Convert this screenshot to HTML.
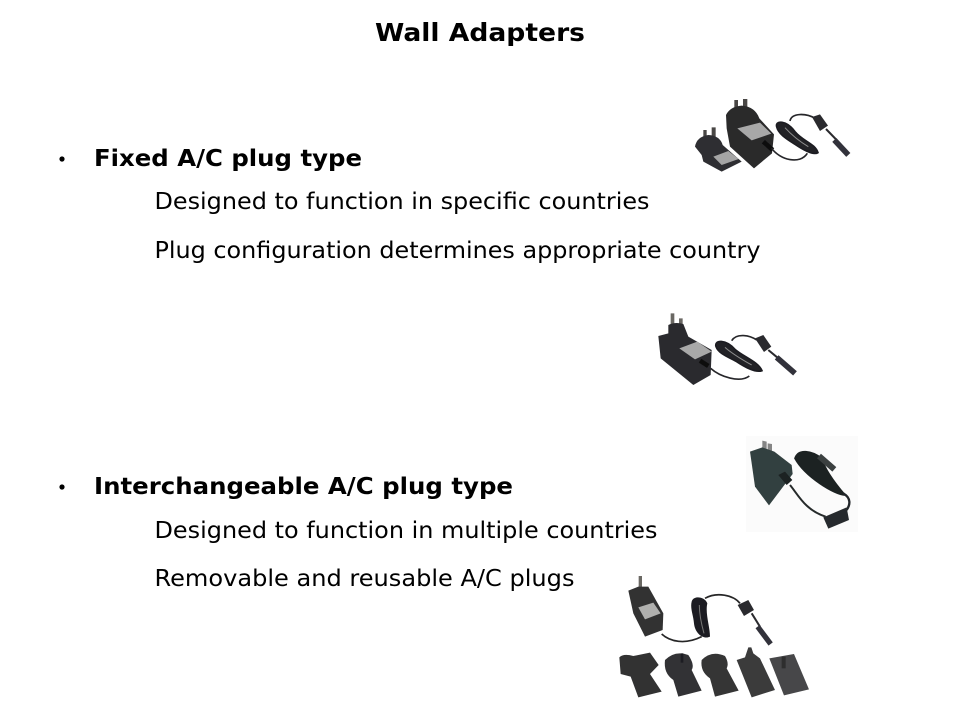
<!DOCTYPE html>
<html><head><meta charset="utf-8"><title>Wall Adapters</title>
<style>html,body{margin:0;padding:0;background:#fff}svg{display:block}text{font-family:"DejaVu Sans","Liberation Sans",sans-serif;fill:#000}</style></head>
<body>
<svg xmlns="http://www.w3.org/2000/svg" width="960" height="720" viewBox="0 0 960 720">
<defs><filter id="b" x="-5%" y="-5%" width="110%" height="110%"><feGaussianBlur stdDeviation="1.1"/></filter></defs>
<rect width="960" height="720" fill="#fff"/>
<text x="375" y="41" font-size="25" font-weight="bold" textLength="210" lengthAdjust="spacingAndGlyphs">Wall Adapters</text>
<circle cx="62" cy="159" r="2.6" fill="#000"/>
<text x="94" y="166" font-size="23" font-weight="bold" textLength="268" lengthAdjust="spacingAndGlyphs">Fixed A/C plug type</text>
<text x="154.5" y="209" font-size="23.5" textLength="495" lengthAdjust="spacingAndGlyphs">Designed to function in specific countries</text>
<text x="154.5" y="258" font-size="23.5" textLength="606" lengthAdjust="spacingAndGlyphs">Plug configuration determines appropriate country</text>
<circle cx="62" cy="487" r="2.6" fill="#000"/>
<text x="94" y="494" font-size="23" font-weight="bold" textLength="419" lengthAdjust="spacingAndGlyphs">Interchangeable A/C plug type</text>
<text x="154.5" y="538" font-size="23.5" textLength="503" lengthAdjust="spacingAndGlyphs">Designed to function in multiple countries</text>
<text x="154.5" y="586" font-size="23.5" textLength="420" lengthAdjust="spacingAndGlyphs">Removable and reusable A/C plugs</text>

<!-- adapter 1 -->
<g transform="translate(680,85) scale(.3333)"><g filter="url(#b)">
<path d="M163 45h11v35h-11zM189 42h13v35h-13zM70 135h10v30h-10zM95 127h12v30h-12z" fill="#4a4644"/>
<path d="M138 90Q150 65 185 62Q225 65 238 100L282 148L276 205L222 250L150 185L140 130Z" fill="#29292c"/>
<path d="M172 130L240 113L274 146L215 166Z" fill="#a8a8a8"/>
<path d="M45 185Q50 155 85 150Q120 152 128 180L185 230L125 260L70 230L65 210Z" fill="#2d2d30"/>
<path d="M100 215L145 198L176 222L125 240Z" fill="#a5a5a5"/>
<path d="M250 170L278 195" stroke="#111" stroke-width="14"/>
<path d="M275 190C300 225 360 240 382 205" fill="none" stroke="#262629" stroke-width="5"/>
<path d="M290 125C285 105 320 105 345 140C370 170 405 175 414 203C400 212 370 195 345 178C320 162 295 147 290 125Z" fill="#232326" stroke="#1f1f22" stroke-width="5"/>
<path d="M315 128C335 150 360 170 385 185" fill="none" stroke="#8d8d8d" stroke-width="3"/>
<path d="M330 108C335 82 380 85 405 100" fill="none" stroke="#262629" stroke-width="5"/>
<path d="M396 96L420 88L444 122L420 138Z" fill="#2b2b2e"/>
<path d="M438 132L470 165" stroke="#2b2b2e" stroke-width="6"/>
<path d="M463 165L505 210" stroke="#33333a" stroke-width="17"/>
</g></g>

<!-- adapter 2 -->
<g transform="translate(640,300) scale(.3333)"><g filter="url(#b)">
<path d="M92 40h11v42h-11zM117 55h11v28h-11z" fill="#6b6764"/>
<path d="M55 108L85 100L85 75Q105 65 130 72L145 110L215 150L212 225L160 255L62 175Z" fill="#2b2b2f"/>
<path d="M118 145L172 125L215 155L165 178Z" fill="#a9a9a9"/>
<path d="M180 182L205 198" stroke="#111" stroke-width="14"/>
<path d="M212 205C240 230 300 250 328 228" fill="none" stroke="#262629" stroke-width="5"/>
<path d="M228 140C222 118 258 118 285 148C310 170 355 185 366 212C350 218 320 205 290 185C262 170 235 160 228 140Z" fill="#232326" stroke="#1f1f22" stroke-width="5"/>
<path d="M255 142C275 160 305 178 335 195" fill="none" stroke="#8d8d8d" stroke-width="3"/>
<path d="M275 122C290 98 330 106 350 120" fill="none" stroke="#262629" stroke-width="5"/>
<path d="M345 115L370 105L394 140L372 156Z" fill="#2b2b2e"/>
<path d="M385 150L415 175" stroke="#2b2b2e" stroke-width="6"/>
<path d="M410 172L465 220" stroke="#33333a" stroke-width="17"/>
</g></g>

<!-- adapter 3 -->
<rect x="746" y="436" width="112" height="96" fill="#fbfbfb"/>
<g transform="translate(735,430) scale(.3333)"><g filter="url(#b)">
<path d="M82 32l13 3v34h-13zM98 40l13 2v28h-13z" fill="#858585"/>
<path d="M45 65L82 52L118 65L170 105L173 132L102 226L60 170Z" fill="#33403f"/>
<path d="M130 135L150 125L172 150L155 165Z" fill="#1a2021"/>
<path d="M165 165C190 195 210 240 272 260" fill="none" stroke="#262b2c" stroke-width="6"/>
<path d="M180 85C190 55 230 62 260 85C270 120 300 160 330 195C300 195 210 140 180 85Z" fill="#1d2224" stroke="#1d2224" stroke-width="5"/>
<path d="M325 190C350 205 345 225 335 240" fill="none" stroke="#22272a" stroke-width="7"/>
<path d="M252 78L298 118" stroke="#3a3f40" stroke-width="18"/>
<path d="M265 262L335 232L342 270L280 296Z" fill="#262c2d"/>
</g></g>

<!-- adapter 4 -->
<g transform="translate(610,570) scale(.3333)"><g filter="url(#b)">
<path d="M86 18h10v40h-10z" fill="#6b6764"/>
<path d="M55 62L85 50L115 50L160 130L158 180L105 200L70 130Z" fill="#323233"/>
<path d="M85 112L130 98L152 130L105 148Z" fill="#b0b0ae"/>
<path d="M155 192C180 215 225 225 275 200" fill="none" stroke="#252527" stroke-width="5"/>
<path d="M245 95C250 75 285 80 292 100C285 130 300 170 300 200C280 210 255 190 252 160C250 135 240 115 245 95Z" fill="#1f1f22"/>
<path d="M268 105C268 135 275 165 282 190" fill="none" stroke="#777" stroke-width="3"/>
<path d="M285 85C320 65 370 75 390 100" fill="none" stroke="#252527" stroke-width="5"/>
<path d="M383 105L415 90L432 120L402 138Z" fill="#2b2b2e"/>
<path d="M425 130L450 170" stroke="#2b2b2e" stroke-width="6"/>
<path d="M443 170L482 222" stroke="#33333a" stroke-width="16"/>
<!-- plugs -->
<path d="M28 262Q40 250 70 258L120 248L146 285L120 312L155 365L85 382L62 320L32 312Z" fill="#303031"/>
<path d="M165 270Q195 240 235 255Q255 285 245 300L275 362L205 380L190 330Q160 310 165 270Z" fill="#333334"/>
<path d="M212 250h8v28h-8z" fill="#1e1e20"/>
<path d="M275 270Q305 240 345 258Q358 280 350 295L386 362L315 380L300 325Q270 305 275 270Z" fill="#353536"/>
<path d="M380 270L405 262L415 232H424L430 250L450 265L495 360L425 382Z" fill="#3a3a3b"/>
<path d="M478 265L552 252L597 358L522 376Z" fill="#474748"/>
<path d="M515 260h12v35h-12z" fill="#2d2d2f"/>
</g></g>
</svg>
</body></html>
